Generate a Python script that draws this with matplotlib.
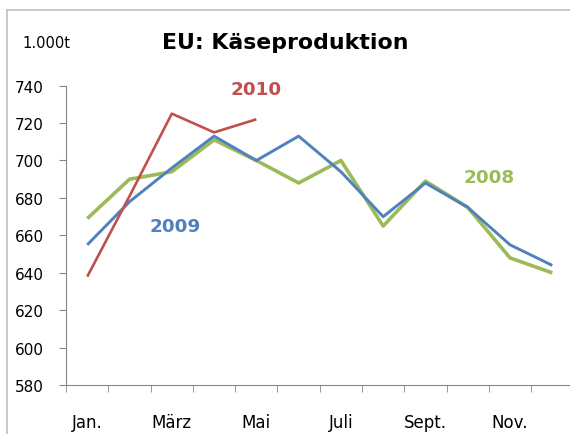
import matplotlib.pyplot as plt
from matplotlib.lines import Line2D
from matplotlib.ticker import FixedLocator

plt.rcParams['font.family'] = ['DejaVu Sans']

months = ['Jan.', 'Feb.', 'März', 'April', 'Mai', 'Juni', 'Juli', 'Aug.', 'Sept.', 'Okt.', 'Nov.', 'Dez.']
tick_labels = ['Jan.', 'März', 'Mai', 'Juli', 'Sept.', 'Nov.']

prod_2008 = [669, 690, 694, 711, 700, 688, 700, 665, 689, 675, 648, 640]
prod_2009 = [655, 678, 696, 713, 700, 713, 694, 670, 688, 675, 655, 644]
prod_2010 = [638, 681, 725, 715, 722]

green = '#9BBB59'
blue = '#4F81BD'
red = '#C0504D'

fig = plt.figure(figsize=(5.7, 4.35), dpi=100)
ax = fig.add_axes([0.116, 0.112, 0.89, 0.689])

x = list(range(len(months)))
ax.plot(x, prod_2008, color=green, linewidth=2.6, solid_capstyle='butt')
ax.plot(x, prod_2009, color=blue, linewidth=2.1, solid_capstyle='butt')
ax.plot(x[:len(prod_2010)], prod_2010, color=red, linewidth=1.9, solid_capstyle='butt')

ax.set_ylim(580, 740)
ax.set_yticks(range(580, 741, 20))
ax.set_xlim(-0.5, 11.5)
ax.set_xticks([0, 2, 4, 6, 8, 10])
ax.set_xticklabels(tick_labels)
ax.xaxis.set_minor_locator(FixedLocator([i - 0.5 for i in range(13)]))
ax.tick_params(axis='x', which='major', length=0, pad=20, labelsize=12)
ax.tick_params(axis='x', which='minor', length=5, color='#868686', direction='out')
ax.tick_params(axis='y', length=5, color='#868686', labelsize=11, pad=11)

for s in ['top', 'right']:
    ax.spines[s].set_visible(False)
for s in ['left', 'bottom']:
    ax.spines[s].set_color('#868686')

ax.text(4.0, 738, '2010', color=red, fontsize=13.2, fontweight='bold', ha='center', va='center')
ax.text(2.07, 665, '2009', color=blue, fontsize=13.2, fontweight='bold', ha='center', va='center')
ax.text(9.5, 691, '2008', color=green, fontsize=13.2, fontweight='bold', ha='center', va='center')

fig.text(0.5, 0.901, 'EU: Käseproduktion', fontsize=15.8, fontweight='bold', ha='center', va='center')
fig.text(0.082, 0.901, '1.000t', fontsize=10.6, ha='center', va='center')

# chart frame
fig.add_artist(Line2D([0.012, 0.012], [0.0, 0.975], color='#bfbfbf', linewidth=1.2))
fig.add_artist(Line2D([0.012, 1.0], [0.975, 0.975], color='#bfbfbf', linewidth=1.2))

fig.savefig('out.png', dpi=100)
